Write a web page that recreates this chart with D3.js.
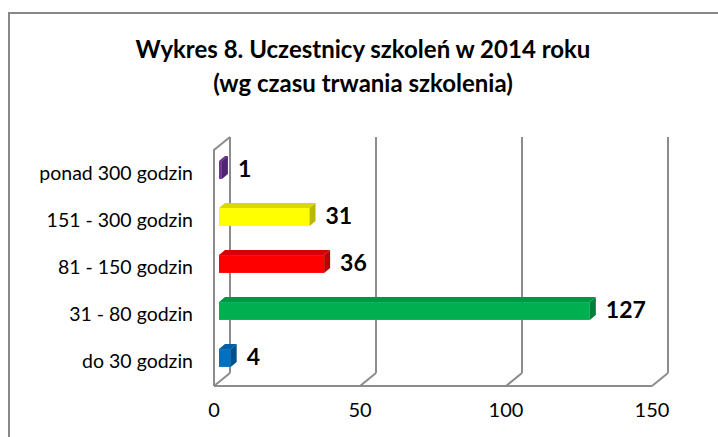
<!DOCTYPE html>
<html>
<head>
<meta charset="utf-8">
<script src="https://cdn.jsdelivr.net/npm/d3@7"></script>
<style>
  html, body { margin: 0; padding: 0; background: #fff; }
  svg { display: block; }
  text { font-family: Lato, "Open Sans", sans-serif; fill: #000; }
</style>
</head>
<body>
<svg id="chart" width="718" height="437"></svg>
<script>
// Uczestnicy szkoleń w 2014 roku wg czasu trwania szkolenia
const categories = ["ponad 300 godzin", "151 - 300 godzin", "81 - 150 godzin", "31 - 80 godzin", "do 30 godzin"];
const values = [1, 31, 36, 127, 4];
const barColors = ["#7030A0", "#FFFF00", "#FF0000", "#00B050", "#0070C0"];
const tickValues = [0, 50, 100, 150];
const titleLines = ["Wykres 8. Uczestnicy szkoleń w 2014 roku", "(wg czasu trwania szkolenia)"];

const svg = d3.select("#chart");

// outer frame
svg.append("rect")
  .attr("x", 9).attr("y", 13).attr("width", 740).attr("height", 460)
  .attr("fill", "none").attr("stroke", "#888").attr("stroke-width", 2);

// title
svg.append("g").selectAll("text").data(titleLines).join("text")
  .attr("x", 363).attr("y", (d, i) => 52 + i * 34)
  .attr("text-anchor", "middle").attr("dominant-baseline", "middle")
  .attr("font-size", 24).attr("font-weight", "bold")
  .text(d => d);

// scales: front plane of the floor, and the plane the bars sit in
const x = d3.scaleLinear().domain([0, 150]).range([214, 652]);
const xb = d3.scaleLinear().domain([0, 150]).range([219, 657]);
const y = d3.scaleBand().domain(categories).range([146.5, 381.5])
  .paddingInner(0.62).paddingOuter(0.31);

const depth = { dx: 16, dy: -13 };      // wall depth
const barDepth = { dx: 6, dy: -5 };     // bar depth
const floorY = 386, wallTop = 137, wallLeftTop = 150;
const gridColor = "#8c8c8c";

const walls = svg.append("g").attr("stroke", gridColor).attr("stroke-width", 2).attr("fill", "none");

// back wall gridlines
walls.selectAll("line.grid").data(tickValues).join("line")
  .attr("class", "grid")
  .attr("x1", d => x(d) + depth.dx).attr("x2", d => x(d) + depth.dx)
  .attr("y1", wallTop).attr("y2", floorY + depth.dy);

// floor: front edge and depth diagonals
walls.append("line")
  .attr("x1", x(0)).attr("x2", x(150)).attr("y1", floorY).attr("y2", floorY);
walls.selectAll("line.floor").data(tickValues).join("line")
  .attr("class", "floor")
  .attr("x1", d => x(d)).attr("y1", floorY)
  .attr("x2", d => x(d) + depth.dx).attr("y2", floorY + depth.dy);

// left wall
walls.append("polyline")
  .attr("points", [[x(0), floorY], [x(0), wallLeftTop], [x(0) + depth.dx, wallLeftTop + depth.dy]].join(" "));

// bars drawn as front, top and side faces
const shade = (c, k) => d3.color(c).darker(k).formatHex();
const bars = svg.append("g").selectAll("g").data(categories).join("g");
bars.each(function(cat, i) {
  const g = d3.select(this);
  const v = values[i], c = barColors[i];
  const x0 = xb(0), x1 = xb(v);
  const y0 = y(cat), y1 = y0 + y.bandwidth();
  const { dx, dy } = barDepth;
  g.append("rect").attr("x", x0).attr("y", y0).attr("width", x1 - x0).attr("height", y1 - y0).attr("fill", c);
  g.append("path").attr("fill", shade(c, 0.45))
    .attr("d", `M${x0},${y0}L${x0 + dx},${y0 + dy}L${x1 + dx},${y0 + dy}L${x1},${y0}Z`);
  g.append("path").attr("fill", shade(c, 0.9))
    .attr("d", `M${x1},${y0}L${x1 + dx},${y0 + dy}L${x1 + dx},${y1 + dy}L${x1},${y1}Z`);
});

const mid = d => y(d) + y.bandwidth() / 2;

// value labels
svg.append("g").selectAll("text").data(categories).join("text")
  .attr("x", (d, i) => xb(values[i]) + 16)
  .attr("y", d => mid(d) + 1)
  .attr("dominant-baseline", "middle")
  .attr("font-size", 23).attr("font-weight", "bold")
  .text((d, i) => values[i]);

// category axis labels
svg.append("g").selectAll("text").data(categories).join("text")
  .attr("x", 193)
  .attr("y", d => mid(d) + 5)
  .attr("text-anchor", "end").attr("dominant-baseline", "middle")
  .attr("font-size", 19.5)
  .text(d => d);

// value axis tick labels
svg.append("g").selectAll("text").data(tickValues).join("text")
  .attr("x", d => x(d)).attr("y", 412)
  .attr("text-anchor", "middle").attr("dominant-baseline", "middle")
  .attr("font-size", 20)
  .text(d => d);
</script>
</body>
</html>
